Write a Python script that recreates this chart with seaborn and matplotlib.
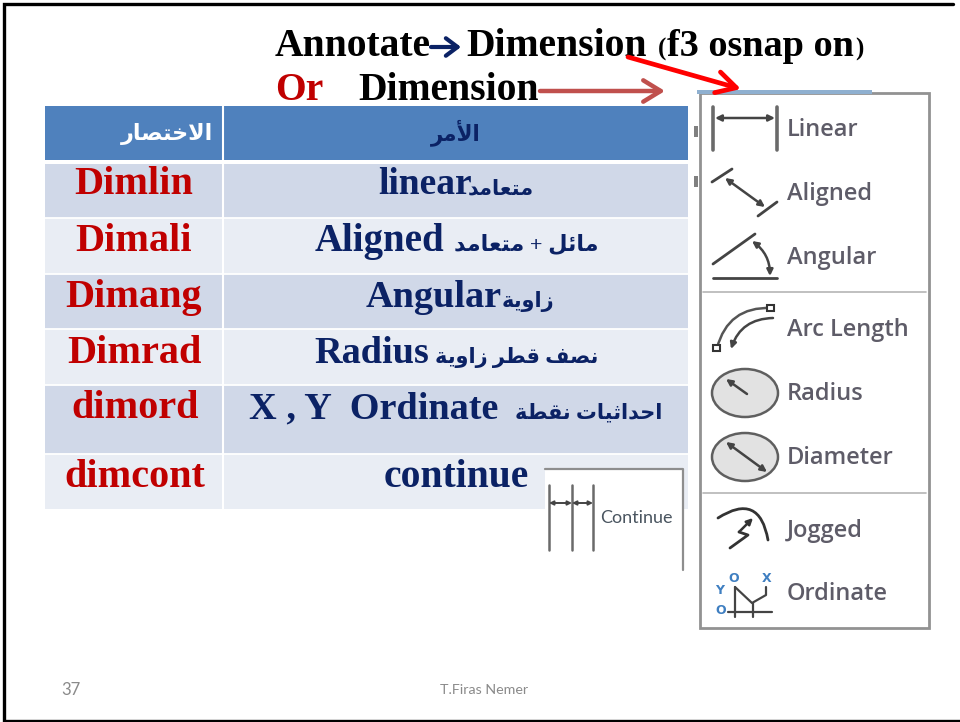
import numpy as np
import matplotlib
matplotlib.use('Agg')
import matplotlib.pyplot as plt
from matplotlib.colors import ListedColormap
from matplotlib.patches import Ellipse, FancyArrowPatch, Rectangle
import seaborn as sns

sns.set_theme(style='white')
SERIF = ['Liberation Serif', 'DejaVu Sans']
NAVY = '#0B2265'
RED = '#C00000'
GREY = '#5E5C68'
ICON = '#444444'

# table content
short_names = ['Dimlin', 'Dimali', 'Dimang', 'Dimrad', 'dimord', 'dimcont']
latin_names = ['linear', 'Aligned', 'Angular', 'Radius', 'X , Y  Ordinate', 'continue']
arabic_names = ['متعامد', 'مائل + متعامد', 'زاوية', 'نصف قطر زاوية', 'احداثيات نقطة', '']
header_short = 'الاختصار'
header_cmd = 'الأمر'
menu_labels = ['Linear', 'Aligned', 'Angular', 'Arc Length', 'Radius', 'Diameter', 'Jogged', 'Ordinate']

# table layout
row_edges = [106, 163, 218, 274, 329, 385, 454, 509]
row_bands = [0, 1, 2, 1, 2, 1, 2]
band_colors = ['#4F81BD', '#D0D8E8', '#E9EDF4']
baselines = [194, 251, 307, 363, 418, 487]
short_x = [134, 134, 134, 134, 135, 135]
latin_x = [378, 315, 366, 314, 249, 384]
latin_size = [27, 28, 27.5, 27.5, 27.5, 28.5]
arabic_end = [534, 598, 554, 598, 662, 0]
arabic_size = [15, 16, 15, 15, 15, 15]
menu_y = [130, 194, 258, 330, 394, 458, 531, 594]

# arabic letter -> first presentation form, number of forms
FORMS = {'ا': (0xFE8D, 2), 'أ': (0xFE83, 2), 'ئ': (0xFE89, 4), 'ة': (0xFE93, 2), 'ت': (0xFE95, 4),
         'ث': (0xFE99, 4), 'ح': (0xFEA1, 4), 'خ': (0xFEA5, 4), 'د': (0xFEA9, 2), 'ر': (0xFEAD, 2),
         'ز': (0xFEAF, 2), 'ص': (0xFEB9, 4), 'ط': (0xFEC1, 4), 'ع': (0xFEC9, 4), 'ف': (0xFED1, 4),
         'ق': (0xFED5, 4), 'ل': (0xFEDD, 4), 'م': (0xFEE1, 4), 'ن': (0xFEE5, 4), 'و': (0xFEED, 2),
         'ي': (0xFEF1, 4)}
LAM_ALEF = {'ا': 0xFEFB, 'أ': 0xFEF7}


def shape_arabic(text):
    # matplotlib does no arabic shaping, so join the letters by hand and lay them out right to left
    out = []
    i = 0
    joins = False
    while i < len(text):
        ch = text[i]
        if ch not in FORMS:
            out.append(ch)
            joins = False
            i += 1
            continue
        if ch == 'ل' and i + 1 < len(text) and text[i + 1] in LAM_ALEF:
            out.append(chr(LAM_ALEF[text[i + 1]] + (1 if joins else 0)))
            joins = False
            i += 2
            continue
        base, count = FORMS[ch]
        next_joins = count == 4 and i + 1 < len(text) and text[i + 1] in FORMS
        if joins and next_joins:
            form = 3
        elif next_joins:
            form = 2
        elif joins:
            form = 1
        else:
            form = 0
        out.append(chr(base + form))
        joins = next_joins
        i += 1
    return ''.join(reversed(out))


def px_axes(fig, left, top, right, bottom):
    return fig.add_axes([left / 960, 1 - bottom / 722, (right - left) / 960, (bottom - top) / 722])


def seg(ax, xs, ys, lw=2, color=ICON):
    ax.plot(xs, ys, color=color, lw=lw, solid_capstyle='round', zorder=5)


def arrow(ax, start, end, style='-|>', color=ICON, lw=1.8, scale=9, rad=0):
    ax.add_patch(FancyArrowPatch(start, end, arrowstyle=style, mutation_scale=scale, color=color, lw=lw,
                                 shrinkA=0, shrinkB=0, connectionstyle=f'arc3,rad={rad}', zorder=5))


fig = plt.figure(figsize=(9.6, 7.22), dpi=100, facecolor='white')

# table bands, one matrix row per pixel so the rows keep their own heights
table_ax = px_axes(fig, 45, 106, 688, 509)
heights = np.diff(row_edges)
band_matrix = np.repeat(np.array(row_bands), heights).reshape(-1, 1)
sns.heatmap(band_matrix, ax=table_ax, cbar=False, cmap=ListedColormap(band_colors), vmin=-0.5, vmax=2.5,
            xticklabels=False, yticklabels=False)

ax = fig.add_axes([0, 0, 1, 1], facecolor='none')
ax.set_xlim(0, 960)
ax.set_ylim(722, 0)
ax.axis('off')

# slide frame, open on the right
ax.plot([953, 3.5, 3.5, 960], [3.5, 3.5, 720.5, 720.5], color='black', lw=2.4, solid_joinstyle='miter')

# table rules
ax.add_patch(Rectangle((45, 160), 643, 3.5, fc='white', ec='none'))
for y in row_edges[2:-1]:
    ax.plot([45, 688], [y - 0.5, y - 0.5], color='white', lw=1.3)
ax.plot([222.7, 222.7], [106, 509], color='white', lw=1.5)

# title
title_kw = dict(family=SERIF, weight='bold', fontsize=28.5, va='baseline')
ax.text(275, 56, 'Annotate', color='black', **title_kw)
ax.text(466, 56, 'Dimension', color='black', **title_kw)
ax.text(658, 56, '(', color='black', family=SERIF, weight='bold', fontsize=18, va='baseline')
ax.text(667, 56, 'f3 osnap on', color='black', family=SERIF, weight='bold', fontsize=27.5, va='baseline')
ax.text(855, 56, ')', color='black', family=SERIF, weight='bold', fontsize=18, va='baseline')
ax.text(275, 100, 'Or', color=RED, **title_kw)
ax.text(358, 100, 'Dimension', color='black', **title_kw)
arrow(ax, (431, 47), (461, 47), style='->,head_width=0.45,head_length=0.6', color=NAVY, lw=3, scale=14)
arrow(ax, (628, 57), (741, 89), style='->,head_width=0.55,head_length=1.0', color='#FF0000', lw=3.4, scale=14)
arrow(ax, (540, 91), (665, 91), style='->,head_width=0.55,head_length=0.9', color='#C0504D', lw=3.2, scale=14)

# table text
ax.text(213, 140, shape_arabic(header_short), color='white', family=SERIF, weight='bold', fontsize=16, ha='right', va='baseline')
ax.text(456, 140, shape_arabic(header_cmd), color=NAVY, family=SERIF, weight='bold', fontsize=15.5, ha='center', va='baseline')
for name, x, y in zip(short_names, short_x, baselines):
    ax.text(x, y, name, color=RED, family=SERIF, weight='bold', fontsize=29, ha='center', va='baseline')
for name, x, y, size in zip(latin_names, latin_x, baselines, latin_size):
    ax.text(x, y, name, color=NAVY, family=SERIF, weight='bold', fontsize=size, va='baseline')
for name, x, y, size in zip(arabic_names, arabic_end, baselines, arabic_size):
    if name:
        ax.text(x, y, shape_arabic(name), color=NAVY, family=SERIF, weight='bold', fontsize=size, ha='right', va='baseline')

# continue inset
ax.add_patch(Rectangle((545, 469), 138, 101, fc='white', ec='none', zorder=2))
ax.plot([545, 683, 683], [469, 469, 570], color='#8E8E8E', lw=1.6, zorder=3)
for x in [549, 572, 593]:
    ax.plot([x, x], [485, 550], color='#6A6A6A', lw=1.8, zorder=3)
arrow(ax, (549, 503), (572, 503), style='<|-|>', scale=6, lw=1.4)
arrow(ax, (572, 503), (593, 503), style='<|-|>', scale=6, lw=1.4)
ax.text(600, 518, 'Continue', color='#4A5560', family='Lato', fontsize=13, va='center', zorder=6)

# dropdown panel
ax.add_patch(Rectangle((700, 93), 229, 535, fc='white', ec='#929292', lw=2, zorder=2))
ax.add_patch(Rectangle((697, 90), 175, 3.5, fc='#8FB0D0', ec='none', zorder=3))
ax.plot([703, 926], [292, 292], color='#B5B5B5', lw=1.2, zorder=3)
ax.plot([703, 926], [493, 493], color='#B5B5B5', lw=1.2, zorder=3)
ax.add_patch(Rectangle((694, 126), 4, 11, fc='#808080', ec='none'))
ax.add_patch(Rectangle((694, 176), 4, 11, fc='#808080', ec='none'))
for label, y in zip(menu_labels, menu_y):
    ax.text(787, y, label, color=GREY, family='Open Sans', weight='semibold', fontsize=17, va='center', zorder=6)

# linear icon
seg(ax, [713, 713], [107, 150], lw=2.6, color='#6A6A6A')
seg(ax, [777, 777], [107, 150], lw=2.6, color='#6A6A6A')
arrow(ax, (715, 118), (775, 118), style='<|-|>')
# aligned icon
seg(ax, [712, 732], [182, 169])
seg(ax, [758, 777], [216, 202])
arrow(ax, (725, 178), (765, 207), style='<|-|>')
# angular icon
seg(ax, [713, 755], [264, 234])
seg(ax, [713, 777], [278, 278])
arrow(ax, (752, 241), (770, 276), style='<|-|>', rad=-0.25)
# arc length icon
arrow(ax, (771, 308), (717, 348), style='-', color='#555555', rad=0.4)
arrow(ax, (773, 318), (731, 349), style='-|>', rad=0.35)
ax.add_patch(Rectangle((767, 305), 7, 6, fc='white', ec='#333333', lw=1.5, zorder=6))
ax.add_patch(Rectangle((713, 345), 7, 6, fc='white', ec='#333333', lw=1.5, zorder=6))
# radius and diameter icons
for cy in [393, 457]:
    ax.add_patch(Ellipse((745, cy), 66, 48, fc='#E2E2E2', ec='#5F5F5F', lw=1.8, zorder=3))
arrow(ax, (747, 394), (726, 379))
arrow(ax, (726, 442), (767, 472), style='<|-|>')
# jogged icon
arrow(ax, (718, 518), (768, 540), style='-', color='#333333', lw=2, rad=-0.75)
seg(ax, [730, 748, 739], [548, 535, 532], color='#333333')
arrow(ax, (739, 532), (753, 518), color='#333333')
# ordinate icon
for letter, x, y in zip(['O', 'X', 'Y', 'O'], [734, 767, 720, 721], [578, 578, 591, 610]):
    ax.text(x, y, letter, color='#3F7FC1', family='DejaVu Sans', weight='bold', fontsize=9, ha='center', va='center', zorder=6)
seg(ax, [728, 772], [612, 612], lw=1.6)
seg(ax, [735, 735], [587, 617], lw=1.6)
seg(ax, [753, 753], [603, 617], lw=1.6)
seg(ax, [735, 752, 766, 766], [587, 603, 595, 587], lw=1.6)

# footer
ax.text(61, 690, '37', color='#8A8A8A', family='Lato', fontsize=12, va='center')
ax.text(484, 690, 'T.Firas Nemer', color='#8A8A8A', family='Lato', fontsize=10.3, ha='center', va='center')

fig.savefig('out.png', dpi=100, facecolor='white')
